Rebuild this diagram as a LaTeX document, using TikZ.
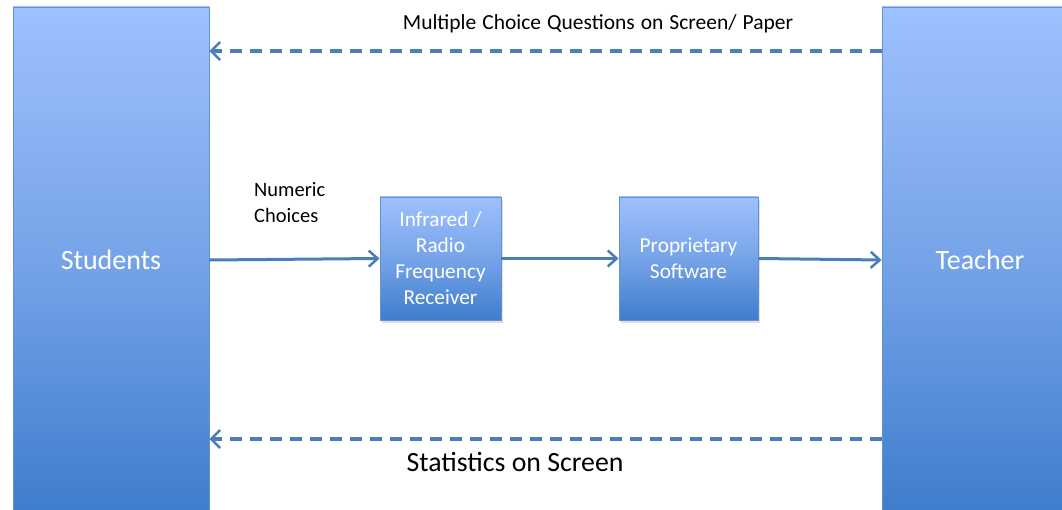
\documentclass[tikz,border=0pt]{standalone}
\usepackage{fontspec}
\setmainfont{Carlito}
\usetikzlibrary{arrows.meta,shadows}
\definecolor{boxtop}{RGB}{158,193,255}
\definecolor{boxmid}{RGB}{118,163,232}
\definecolor{boxbot}{RGB}{62,125,205}
\definecolor{boxline}{RGB}{100,145,210}
\definecolor{flow}{RGB}{74,126,187}
\newcommand{\widespaces}{\spaceskip=6pt\relax}
\tikzset{
  actor/.style={draw=boxline, line width=0.8pt, top color=boxtop, bottom color=boxbot,
    middle color=boxmid, minimum width=196pt, minimum height=506pt,
    text=white, font=\fontsize{28}{30}\selectfont},
  stage/.style={draw=boxline, line width=0.8pt, top color=boxtop, bottom color=boxbot,
    middle color=boxmid, minimum height=123pt, align=center, text=white,
    font=\fontsize{21.3}{26}\selectfont,
    drop shadow={shadow xshift=2pt, shadow yshift=-3pt, opacity=0.25}},
  solidflow/.style={draw=flow, line width=3pt, -{Straight Barb[length=9pt, width=16pt, line width=2.5pt]}},
  dashflow/.style={draw=flow, line width=3.5pt, dash pattern=on 12pt off 8pt,
    -{Straight Barb[length=9pt, width=18pt, line width=2.5pt]}},
  caption/.style={text=black, inner sep=0pt}
}
\begin{document}
\begin{tikzpicture}[x=1pt, y=-1pt]
\useasboundingbox (0,0) rectangle (1062,510);
\fill[white] (0,0) rectangle (1062,510);

% the two parties
\node[actor] (students) at (111,260) {Students};
\node[actor] (teacher) at (980,260) {Teacher};

% the processing chain
\node[stage, minimum width=121pt] (receiver) at (440.5,258.5) {Infrared /\\Radio\\Frequency\\Receiver};
\node[stage, minimum width=139pt] (software) at (688.5,258.5) {Proprietary\\Software};

% response path
\draw[solidflow] (students.east) -- (receiver.west);
\draw[solidflow] (receiver.east) -- (software.west);
\draw[solidflow] (software.east) -- (teacher.west);

% feedback paths
\coordinate (qrow) at (0,51);
\coordinate (srow) at (0,439);
\draw[dashflow] (teacher.west |- qrow) -- (students.east |- qrow);
\draw[dashflow] (teacher.west |- srow) -- (students.east |- srow);

% labels
\node[caption, font=\fontsize{21.5}{24}\selectfont] (qlabel) at (598,24) {\widespaces Multiple Choice Questions on Screen/ Paper};
\node[caption, font=\fontsize{20.5}{26}\selectfont, align=left, anchor=west] (nlabel) at (254,203) {Numeric\\Choices};
\node[caption, font=\fontsize{27.8}{30}\selectfont] (slabel) at (515,462) {Statistics on Screen};
\end{tikzpicture}
\end{document}
